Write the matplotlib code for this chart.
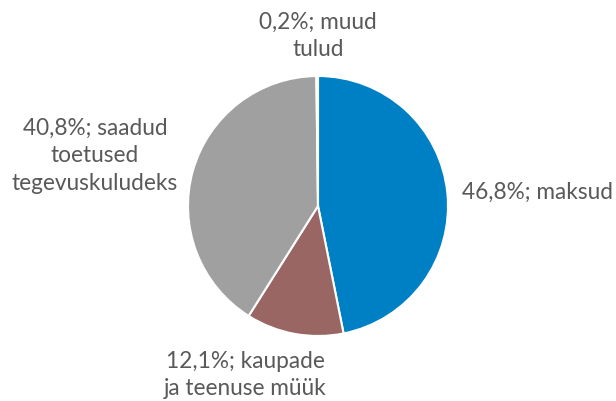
import matplotlib.pyplot as plt

# Tulude struktuur (%), päripäeva alates ülevalt
labels = ['maksud', 'kaupade\nja teenuse müük', 'saadud\ntoetused\ntegevuskuludeks', 'muud\ntulud']
shares = [46.8, 12.1, 40.8, 0.2]
colors = ['#0080C4', '#9A6664', '#A0A0A0', '#D9D9D9']

fig = plt.figure(figsize=(6.16, 4.01), dpi=100)
ax = fig.add_axes([0, 0, 1, 1])

wedges, _ = ax.pie(shares, colors=colors, startangle=90, counterclock=False,
                   center=(318, 195), radius=130,
                   wedgeprops=dict(edgecolor='white', linewidth=1.5))

# pie() muudab telje piire, seega seame need pärast
ax.set_xlim(0, 616)
ax.set_ylim(0, 401)
ax.set_aspect('equal')
ax.axis('off')

# Sildid: "protsent; nimetus"
texts = []
for share, lab in zip(shares, labels):
    pct = f'{share:.1f}'.replace('.', ',') + '%'
    first, *rest = lab.split('\n')
    texts.append('\n'.join([f'{pct}; {first}'] + rest))

pos = [(462, 209, 'left'), (245, 26, 'center'), (95, 245, 'center'), (318, 365, 'center')]
for t, (x, y, ha) in zip(texts, pos):
    ax.text(x, y, t, ha=ha, va='center', fontsize=16.3, color='#595959',
            family='Lato', linespacing=1.4)

fig.savefig('out.png', dpi=100)
